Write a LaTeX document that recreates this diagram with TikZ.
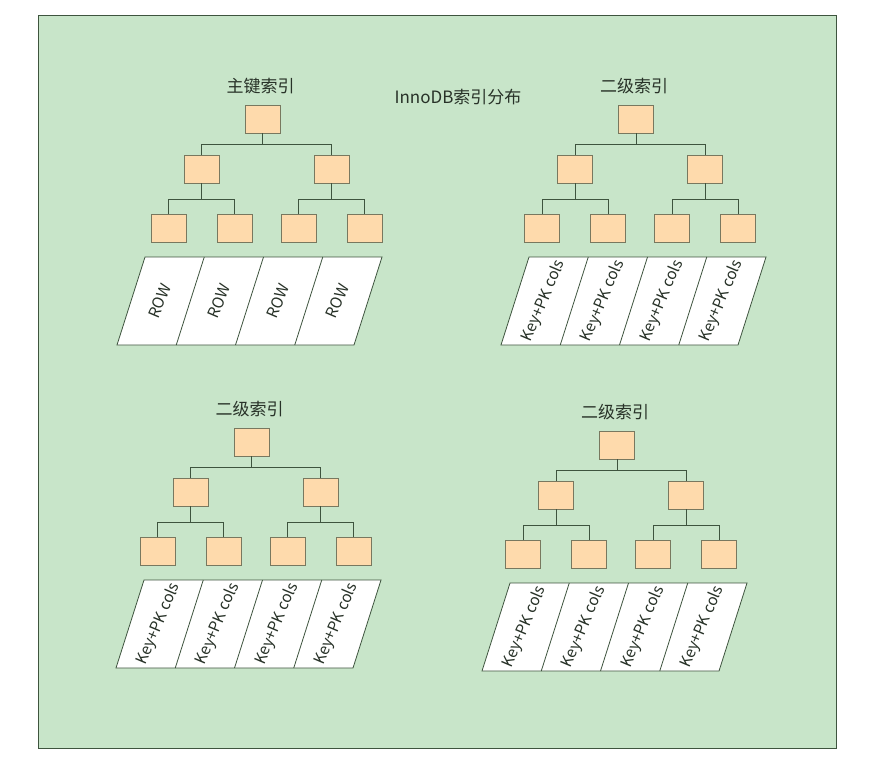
\documentclass[tikz,border=0pt]{standalone}
\usepackage{fontspec}
\setmainfont{Noto Sans CJK SC}
\usepackage{tikz}
\usetikzlibrary{positioning}

\definecolor{bggreen}{RGB}{200,229,201}
\definecolor{boxfill}{RGB}{254,218,172}
\definecolor{boxedge}{RGB}{120,120,95}
\definecolor{linegreen}{RGB}{62,84,62}
\definecolor{textgray}{RGB}{40,50,40}

\tikzset{
  pagebox/.style={draw=linegreen, line width=0.9pt, fill=bggreen},
  keybox/.style={draw=boxedge, line width=0.8pt, fill=boxfill, minimum width=35pt, minimum height=28pt, inner sep=0pt},
  treeline/.style={draw=linegreen, line width=0.8pt},
  cellbox/.style={draw=linegreen, line width=0.8pt, fill=white},
  titletext/.style={text=textgray, font=\fontsize{17}{19}\selectfont},
  celltext/.style={text=textgray, font=\fontsize{15.5}{17}\selectfont, rotate=67, inner sep=0pt}
}

\begin{document}
\begin{tikzpicture}[x=1pt,y=-1pt]
\useasboundingbox (0,0) rectangle (874,767);
%
\fill[pagebox] (38,15) rectangle (836,748);
\node[titletext] (main) at (458,97) {InnoDB索引分布};
%
\foreach \t/\X/\Y/\P/\ttl/\cell in {1/262.5/105/145/主键索引/ROW,
    2/636/105/529/二级索引/Key+PK cols,
    3/251.5/428/144/二级索引/Key+PK cols,
    4/617/431/510/二级索引/Key+PK cols}{
  % title and keys
  \node[titletext] (ttl\t) at (\X-2,\Y-19) {\ttl};
  \node[keybox] (r\t) at (\X,\Y+14) {};
  \node[keybox] (a\t) at (\X-61,\Y+64) {};
  \node[keybox] (b\t) at (\X+69,\Y+64) {};
  \node[keybox] (aa\t) at (\X-94,\Y+123) {};
  \node[keybox] (ab\t) at (\X-28,\Y+123) {};
  \node[keybox] (ba\t) at (\X+36,\Y+123) {};
  \node[keybox] (bb\t) at (\X+102,\Y+123) {};
  % connectors
  \draw[treeline] (r\t.south) -- ++(0,11) coordinate (jr\t);
  \draw[treeline] (a\t.north) |- (jr\t) -| (b\t.north);
  \draw[treeline] (a\t.south) -- ++(0,16) coordinate (ja\t);
  \draw[treeline] (aa\t.north) |- (ja\t) -| (ab\t.north);
  \draw[treeline] (b\t.south) -- ++(0,16) coordinate (jb\t);
  \draw[treeline] (ba\t.north) |- (jb\t) -| (bb\t.north);
  % leaf rows
  \draw[cellbox] (\P,\Y+152) -- ++(237,0) -- ++(-28,88) -- ++(-237,0) -- cycle;
  \foreach \k in {1,2,3}
    \draw[treeline] ({\P+\k*59.25},\Y+152) -- ++(-28,88);
  \foreach \k in {0,...,3}
    \node[celltext] (c\t\k) at ({\P+(\k+0.5)*59.25-15},\Y+196) {\cell};
}
\end{tikzpicture}
\end{document}
